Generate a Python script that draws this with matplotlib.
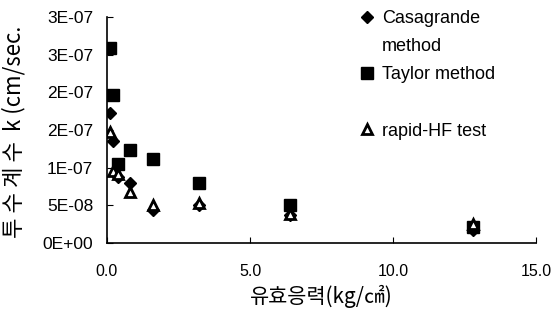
import matplotlib
matplotlib.use('Agg')
import matplotlib.pyplot as plt
from matplotlib.lines import Line2D

# 하중 단계 (kg/cm2)
stress = [0.1, 0.2, 0.4, 0.8, 1.6, 3.2, 6.4, 12.8]

# 투수계수 k (cm/sec)
k_casagrande = [1.73e-7, 1.35e-7, 8.8e-8, 8.0e-8, 4.4e-8, 5.1e-8, 3.7e-8, 1.7e-8]
k_taylor = [2.59e-7, 1.96e-7, 1.05e-7, 1.23e-7, 1.12e-7, 8.0e-8, 5.1e-8, 2.1e-8]
k_rapid = [1.48e-7, 9.5e-8, 9.2e-8, 6.8e-8, 5.1e-8, 5.3e-8, 3.8e-8, 2.5e-8]

x_ticks = [0, 5, 10, 15]
x_ticklabels = ["0.0", "5.0", "10.0", "15.0"]
y_ticks = [0, 5e-8, 1e-7, 1.5e-7, 2e-7, 2.5e-7, 3e-7]
y_ticklabels = ["0E+00", "5E-08", "1E-07", "2E-07", "2E-07", "3E-07", "3E-07"]

plt.rcParams['font.family'] = ['Liberation Sans', 'DejaVu Sans']
kor = ['Noto Sans CJK KR', 'DejaVu Sans']

fig = plt.figure(figsize=(5.57, 3.18), dpi=100)
ax = fig.add_axes([107 / 557, 1 - 243 / 318, 429 / 557, 226 / 318])

#데이터 점
ax.plot(stress, k_casagrande, linestyle='none', marker='D', markersize=6.5,
        color='black', label='Casagrande')
ax.plot(stress, k_taylor, linestyle='none', marker='s', markersize=8.5,
        color='black', label='Taylor method')
ax.plot(stress, k_rapid, linestyle='none', marker='^', markersize=6.5,
        markerfacecolor='white', markeredgecolor='black', markeredgewidth=2,
        label='rapid-HF test')

ax.set_xlim(0, 15)
ax.set_ylim(0, 3e-7)
ax.set_xticks(x_ticks)
ax.set_xticklabels(x_ticklabels)
ax.set_yticks(y_ticks)
ax.set_yticklabels(y_ticklabels)

ax.spines['top'].set_visible(False)
ax.spines['right'].set_visible(False)
ax.spines['left'].set_linewidth(1.2)
ax.spines['bottom'].set_linewidth(1.2)
ax.tick_params(axis='x', direction='in', length=4, pad=15, labelsize=11.5)
ax.tick_params(axis='y', direction='in', length=4, pad=10, labelsize=12.5)

ax.set_xlabel('유효응력(kg/㎠)', family=kor, fontsize=15, labelpad=4)
ax.set_ylabel('투 수 계 수  k (cm/sec.', family=kor, fontsize=16, labelpad=2)
ax.yaxis.set_label_coords(-0.19, 0.49)

#범례 (빈 항목으로 줄 간격 맞춤)
h = ax.get_legend_handles_labels()[0]
blank = Line2D([], [], linestyle='none')
handles = [h[0], blank, h[1], blank, h[2]]
labels = ['Casagrande', 'method', 'Taylor method', ' ', 'rapid-HF test']
fig.legend(handles, labels, loc='upper left', bbox_to_anchor=(360 / 557, 1 - 10 / 318),
           frameon=False, fontsize=13, handlelength=0.8, handletextpad=0.4,
           labelspacing=0.62, borderpad=0, borderaxespad=0)

fig.savefig('out.png', dpi=100)
